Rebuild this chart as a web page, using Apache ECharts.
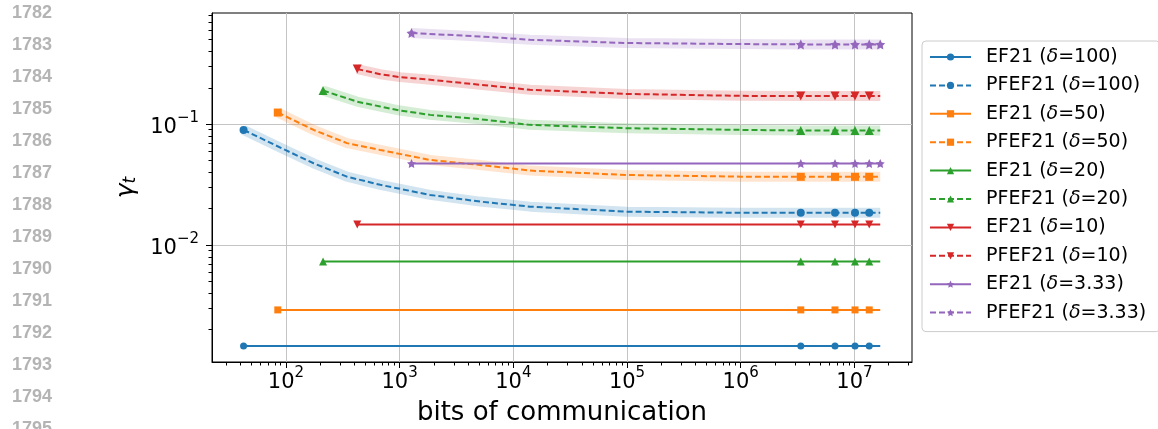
<!DOCTYPE html>
<html><head><meta charset="utf-8">
<script src="https://cdn.jsdelivr.net/npm/echarts@6/dist/echarts.min.js"></script>
<style>html,body{margin:0;padding:0;background:#fff}#c{width:1158px;height:429px}</style>
</head><body><div id="c"></div>
<script>
// ---------------- data ----------------
const lineNumbers = ['1782','1783','1784','1785','1786','1787','1788','1789','1790','1791','1792','1793','1794','1795'];
const deltas = ['100', '50', '20', '10', '3.33'];
const startBits = [42.4, 84.8, 212, 424, 1272];
const markerBits = [3.375e6, 6.75e6, 1.0125e7, 1.35e7];
const endBits = 1.6875e7;
const ef21Gamma = [0.00146, 0.00291, 0.00733, 0.01483, 0.0472];

const pf100X = [42.4, 98.6, 175, 344, 675, 1854, 5096, 14020, 99000, 1e6, 3.375e6, 6.75e6, 1.0125e7, 1.35e7, 1.6875e7];
const pf100Y = [0.0897, 0.0612, 0.0475, 0.0368, 0.0315, 0.0260, 0.0229, 0.0208, 0.0189, 0.0185, 0.0185, 0.0185, 0.0185, 0.0185, 0.0185];
const pf50X = [84.8, 175, 344, 675, 1854, 5096, 14020, 99000, 1e6, 3.375e6, 6.75e6, 1.0125e7, 1.35e7, 1.6875e7];
const pf50Y = [0.1248, 0.0897, 0.0697, 0.0612, 0.0506, 0.0460, 0.0413, 0.0380, 0.0368, 0.0367, 0.0367, 0.0367, 0.0367, 0.0367];
const pf20X = [212, 421, 675, 1009, 1854, 5096, 14020, 99000, 1e6, 3.375e6, 6.75e6, 1.0125e7, 1.35e7, 1.6875e7];
const pf20Y = [0.1897, 0.1538, 0.140, 0.1297, 0.1194, 0.110, 0.0987, 0.0927, 0.0897, 0.0886, 0.0886, 0.0886, 0.0886, 0.0886];
const pf10X = [424, 675, 1009, 1854, 5096, 14020, 99000, 1e6, 3.375e6, 6.75e6, 1.0125e7, 1.35e7, 1.6875e7];
const pf10Y = [0.2857, 0.259, 0.245, 0.233, 0.212, 0.1925, 0.178, 0.1715, 0.171, 0.171, 0.171, 0.171, 0.171];
const pf3X = [1272, 5096, 14020, 99000, 1e6, 3.375e6, 6.75e6, 1.0125e7, 1.35e7, 1.6875e7];
const pf3Y = [0.567, 0.532, 0.499, 0.469, 0.460, 0.457, 0.457, 0.457, 0.457, 0.457];

const xMajorTicks = [1e2, 1e3, 1e4, 1e5, 1e6, 1e7];
const yMajorTicks = [1e-2, 1e-1];
const xLabel = 'bits of communication';

// ---------------- styling / build ----------------
const X_MIN = 22.37, X_MAX = 3.21e7, Y_MIN = 0.001079, Y_MAX = 0.831;
const colors = ['#1f77b4', '#ff7f0e', '#2ca02c', '#d62728', '#9467bd'];
const bandColors = ['rgba(31,119,180,0.2)', 'rgba(255,127,14,0.2)', 'rgba(44,160,44,0.2)', 'rgba(214,39,40,0.2)', 'rgba(148,103,189,0.2)'];
const STAR = 'path://M0,-10L2.94,-4.05L9.51,-3.09L4.76,1.55L5.88,8.09L0,5L-5.88,8.09L-4.76,1.55L-9.51,-3.09L-2.94,-4.05Z';
const DOWN = 'path://M0,0L20,0L10,17.3Z';
const symbols = ['circle', 'rect', 'triangle', DOWN, STAR];
const symSizes = [7, 7, 8, 8, 9];
const pfX = [pf100X, pf50X, pf20X, pf10X, pf3X];
const pfY = [pf100Y, pf50Y, pf20Y, pf10Y, pf3Y];

function minorTicks(lo, hi) {
  const out = [];
  for (let e = Math.floor(Math.log10(lo)); e <= Math.ceil(Math.log10(hi)); e++) {
    for (let m = 2; m <= 9; m++) {
      const v = m * Math.pow(10, e);
      if (v >= lo && v <= hi) out.push(v);
    }
  }
  return out;
}
function isMarker(x, i, k) {
  if (i === 0) return true;
  if (markerBits.indexOf(x) >= 0) return true;
  if (k === 4 && x === endBits) return true;
  return false;
}
function buildData(xs, ys, k) {
  return xs.map((x, i) => {
    const d = { value: [x, ys[i]] };
    if (!isMarker(x, i, k)) d.symbol = 'none';
    return d;
  });
}
const FONT = 'DejaVu Sans';
const supFmt = v => {
  const e = Math.round(Math.log10(v));
  return '{b|10}{s|' + String(e).replace('-', '\u2212') + '}';
};
const tickRich = {
  b: { fontSize: 21, fontFamily: FONT, color: '#000', lineHeight: 27, verticalAlign: 'bottom' },
  s: { fontSize: 15, fontFamily: FONT, color: '#000', lineHeight: 15, verticalAlign: 'top' }
};

const series = [];
const legendNames = [];
for (let k = 0; k < 5; k++) {
  const efName = 'EF21 (δ=' + deltas[k] + ')';
  const pfName = 'PFEF21 (δ=' + deltas[k] + ')';
  legendNames.push(efName, pfName);
  const efX = [startBits[k]].concat(markerBits, [endBits]);
  const efY = efX.map(() => ef21Gamma[k]);
  series.push({
    name: efName, type: 'line', xAxisIndex: 0, yAxisIndex: 0,
    data: buildData(efX, efY, k), symbol: symbols[k], symbolSize: symSizes[k], showSymbol: true,
    itemStyle: { color: colors[k] }, lineStyle: { color: colors[k], width: 2, type: 'solid' },
    emphasis: { disabled: true }, animation: false
  });
  series.push({
    name: 'band' + k, type: 'line', xAxisIndex: 0, yAxisIndex: 0,
    data: pfX[k].map((x, i) => [x, pfY[k][i]]), symbol: 'none', silent: true,
    lineStyle: { color: bandColors[k], width: 10, cap: 'butt', join: 'round' },
    emphasis: { disabled: true }, animation: false
  });
  series.push({
    name: pfName, type: 'line', xAxisIndex: 0, yAxisIndex: 0,
    data: buildData(pfX[k], pfY[k], k), symbol: symbols[k], symbolSize: symSizes[k] + 1, showSymbol: true,
    itemStyle: { color: colors[k] }, lineStyle: { color: colors[k], width: 2, type: [6, 3] },
    emphasis: { disabled: true }, animation: false
  });
}

const chart = echarts.init(document.getElementById('c'), null, { renderer: 'canvas' });
chart.setOption({
  backgroundColor: '#fff',
  animation: false,
  grid: { left: 212, top: 13, width: 700, height: 349, show: true, borderColor: '#000', borderWidth: 1,
    backgroundColor: 'transparent', containLabel: false, outerBoundsMode: 'none' },
  xAxis: [{
    type: 'log', logBase: 10, min: X_MIN, max: X_MAX, position: 'bottom',
    name: xLabel, nameLocation: 'middle', nameGap: 30,
    nameTextStyle: { fontSize: 26, fontFamily: FONT, color: '#000', lineHeight: 30 },
    axisLine: { show: true, lineStyle: { color: '#000', width: 1 } },
    axisTick: { show: true, customValues: xMajorTicks, length: 6, inside: false, lineStyle: { color: '#000', width: 1 } },
    axisLabel: { show: true, customValues: xMajorTicks, margin: 4, formatter: supFmt, rich: tickRich },
    splitLine: { show: true, lineStyle: { color: '#c4c4c4', width: 1 } },
    minorTick: { show: false }
  }, {
    type: 'log', logBase: 10, min: X_MIN, max: X_MAX, position: 'bottom', offset: 0,
    axisLine: { show: false },
    axisTick: { show: true, customValues: minorTicks(X_MIN, X_MAX), length: 3.5, lineStyle: { color: '#000', width: 1 } },
    axisLabel: { show: false }, splitLine: { show: false }
  }],
  yAxis: [{
    type: 'log', logBase: 10, min: Y_MIN, max: Y_MAX, position: 'left',
    name: '{g|γ}{t|t}', nameLocation: 'middle', nameGap: 72, nameRotate: 90,
    nameTextStyle: { rich: {
      g: { fontSize: 25, fontFamily: FONT, fontStyle: 'italic', color: '#000', lineHeight: 30, verticalAlign: 'bottom' },
      t: { fontSize: 17, fontFamily: FONT, fontStyle: 'italic', color: '#000', lineHeight: 30, verticalAlign: 'bottom' }
    } },
    axisLine: { show: true, lineStyle: { color: '#000', width: 1 } },
    axisTick: { show: true, customValues: yMajorTicks, length: 6, lineStyle: { color: '#000', width: 1 } },
    axisLabel: { show: true, customValues: yMajorTicks, margin: 13, formatter: supFmt, rich: tickRich },
    splitLine: { show: true, lineStyle: { color: '#c4c4c4', width: 1 } }
  }, {
    type: 'log', logBase: 10, min: Y_MIN, max: Y_MAX, position: 'left', offset: 0,
    axisLine: { show: false },
    axisTick: { show: true, customValues: minorTicks(Y_MIN, Y_MAX), length: 3.5, lineStyle: { color: '#000', width: 1 } },
    axisLabel: { show: false }, splitLine: { show: false }
  }],
  legend: {
    data: legendNames, orient: 'vertical', left: 922, top: 41,
    itemWidth: 41, itemHeight: 9, itemGap: 6.4,
    padding: [5, 14, 8, 7],
    backgroundColor: '#fff', borderColor: '#cccccc', borderWidth: 1, borderRadius: 4,
    selectedMode: false,
    textStyle: { fontSize: 19, fontFamily: FONT, color: '#000', lineHeight: 22, padding: [0, 0, 0, 10],
      rich: { i: { fontSize: 19, fontFamily: FONT, fontStyle: 'italic', color: '#000', lineHeight: 22 } } },
    formatter: n => n.replace('δ', '{i|δ}')
  },
  graphic: lineNumbers.map((t, i) => ({
    type: 'text', left: 12, top: 14 + 31.95 * i - 9.5,
    style: { text: t, fill: '#b4b4b4', font: 'bold 18px "Liberation Sans", Arial, sans-serif' }
  })),
  series: series
});
</script></body></html>
